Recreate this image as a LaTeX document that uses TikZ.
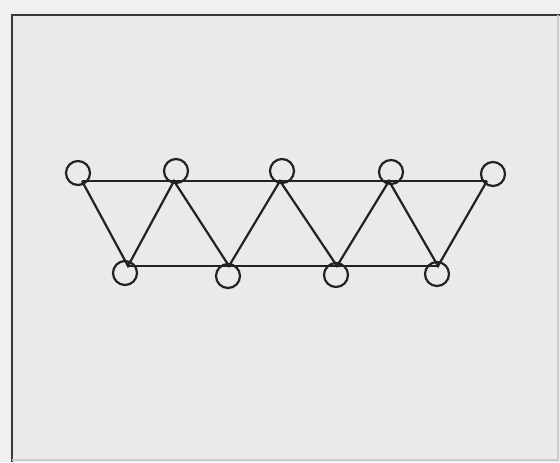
\documentclass[tikz,border=0pt]{standalone}
\begin{document}
\begin{tikzpicture}[x=0.5pt,y=-0.5pt,
  joint/.style={circle,draw=linec,line width=1.1pt,minimum size=12pt,inner sep=0pt},
  bar/.style={draw=linec,line width=1.1pt},
  frameline/.style={draw=linec!90,line width=1.4pt}]
\definecolor{linec}{HTML}{222222}
\definecolor{bgin}{HTML}{EAEAEA}
\definecolor{bgout}{HTML}{F0F0F0}
\fill[bgout] (0,0) rectangle (560,462);
\fill[bgin] (12,15) rectangle (560,462);
\useasboundingbox (0,0) rectangle (560,462);
\draw[frameline] (12,462) -- (12,15) -- (560,15);
\draw[gray!40,line width=0.6pt] (558,15) -- (558,460) -- (12,460);
% joint points
\coordinate (p1) at (82,181);
\coordinate (p2) at (174,181);
\coordinate (p3) at (280,181);
\coordinate (p4) at (389,181);
\coordinate (p5) at (487,181);
\coordinate (q1) at (128,266);
\coordinate (q2) at (229,266);
\coordinate (q3) at (337,266);
\coordinate (q4) at (438,266);
% chords
\draw[bar] (p1) -- (p2) -- (p3) -- (p4) -- (p5);
\draw[bar] (q1) -- (q2) -- (q3) -- (q4);
% diagonals
\draw[bar] (p1) -- (q1) -- (p2) -- (q2) -- (p3) -- (q3) -- (p4) -- (q4) -- (p5);
% circles
\node[joint] (t1) at (78,173) {};
\node[joint] (t2) at (176,171) {};
\node[joint] (t3) at (282,171) {};
\node[joint] (t4) at (391,172) {};
\node[joint] (t5) at (493,174) {};
\node[joint] (b1) at (125,273) {};
\node[joint] (b2) at (228,276) {};
\node[joint] (b3) at (336,275) {};
\node[joint] (b4) at (437,274) {};
\end{tikzpicture}
\end{document}
